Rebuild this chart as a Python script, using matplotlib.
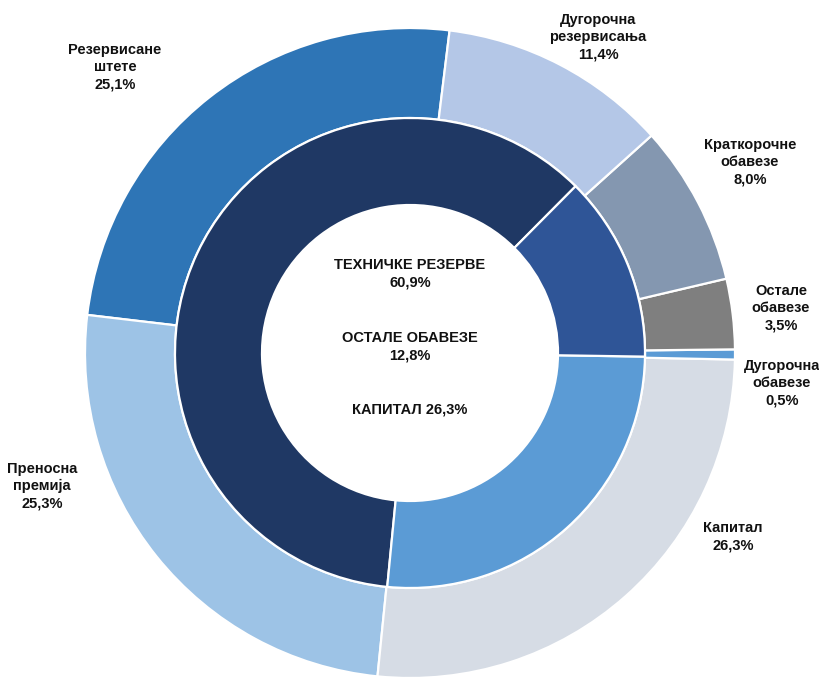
import matplotlib
matplotlib.use("Agg")
import matplotlib.pyplot as plt

# outer ring (counterclockwise from the top)
outer_labels = ["Резервисане\nштете\n25,1%", "Преносна\nпремија\n25,3%", "Капитал\n26,3%",
                "Дугорочна\nобавезе\n0,5%", "Остале\nобавезе\n3,5%",
                "Краткорочне\nобавезе\n8,0%", "Дугорочна\nрезервисања\n11,4%"]
outer_values = [25.1, 25.3, 26.3, 0.5, 3.5, 8.0, 11.4]
outer_colors = ["#2e75b6", "#9dc3e6", "#d6dce5", "#5b9bd5", "#7f7f7f", "#8497b0", "#b4c7e7"]

# inner ring
inner_labels = ["ТЕХНИЧКЕ РЕЗЕРВЕ\n60,9%", "КАПИТАЛ 26,3%", "ОСТАЛЕ ОБАВЕЗЕ\n12,8%"]
inner_values = [60.9, 26.3, 12.8]
inner_colors = ["#1f3864", "#5b9bd5", "#2f5597"]

FONT = ["Liberation Sans Narrow", "Liberation Sans", "DejaVu Sans"]

W, H = 819, 678
fig = plt.figure(figsize=(W / 100, H / 100), dpi=100)
ax = fig.add_axes([0, 0, 1, 1])
ax.axis("off")

cx, cy, R = 410, H - 353, 325
start_outer = 83
# inner ring is aligned so that both "Капитал" slices start at the same angle
start_inner = start_outer + 3.6 * (outer_values[0] + outer_values[1] - inner_values[0])

edge = dict(edgecolor="white", linewidth=1.6)
ax.pie(outer_values, colors=outer_colors, radius=R, center=(cx, cy),
       startangle=start_outer, counterclock=True,
       wedgeprops=dict(width=R - 235, **edge))
ax.pie(inner_values, colors=inner_colors, radius=235, center=(cx, cy),
       startangle=start_inner, counterclock=True,
       wedgeprops=dict(width=235 - 148, **edge))
ax.set_xlim(0, W)
ax.set_ylim(0, H)
ax.set_aspect("equal")

# outer labels, placed by hand like in the original (pixels from the top-left)
label_pos = [(115, 67), (42, 486), (733, 537), (782, 383), (781, 308), (750, 162), (598, 37)]
for txt, (x, y) in zip(outer_labels, label_pos):
    ax.text(x, H - y, txt, ha="center", va="center", fontsize=10.5, fontweight="bold",
            family=FONT, linespacing=1.3, color="#111111")

# centre text
center_pos = [(410, 274), (410, 409), (410, 347)]
for txt, (x, y) in zip(inner_labels, center_pos):
    ax.text(x, H - y, txt, ha="center", va="center", fontsize=10.5, fontweight="bold",
            family=FONT, linespacing=1.3, color="#111111")

fig.savefig("out.png", dpi=100, facecolor="white")
